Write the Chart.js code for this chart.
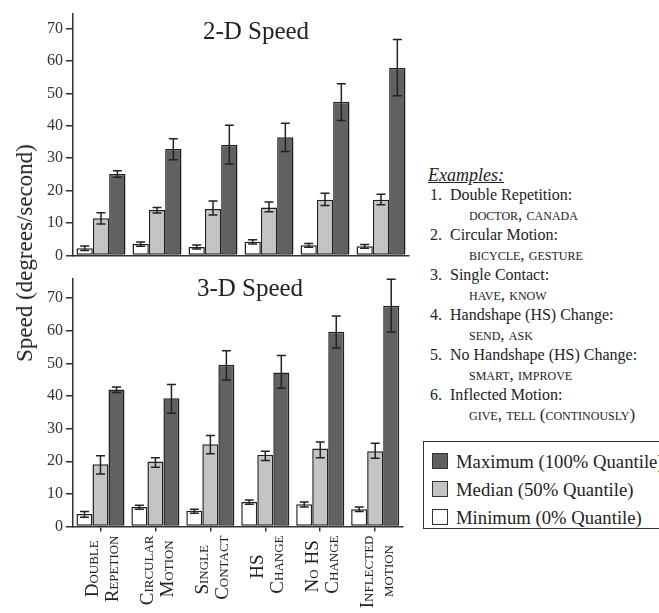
<!DOCTYPE html>
<html>
<head>
<meta charset="utf-8">
<script src="https://cdn.jsdelivr.net/npm/chart.js@4.4.0/dist/chart.umd.min.js"></script>
<style>
  html, body { margin: 0; padding: 0; background: #fff; overflow: hidden; }
  body { width: 659px; height: 613px; position: relative; font-family: 'Liberation Serif', 'Times New Roman', serif; color: #222; }
  canvas { position: absolute; left: 0; }
  #top { top: 0; }
  #bottom { top: 266px; }
  .ytitle { position: absolute; left: 25px; top: 253px; transform: translate(-50%, -50%) rotate(-90deg); font-size: 23px; white-space: nowrap; }
  #examples { position: absolute; left: 428px; top: 165px; font-size: 16px; line-height: 20px; white-space: nowrap; }
  #examples div { height: 20px; }
  #examples .head { font-style: italic; text-decoration: underline; font-size: 18px; }
  #examples .num { padding-left: 2px; }
  #examples .sub { font-variant: small-caps; font-size: 17px; padding-left: 41px; }
  #legend { position: absolute; left: 423px; top: 441px; width: 260px; height: 86px; border: 1.5px solid #333; font-size: 18.7px; }
  #legend .row { position: absolute; left: 8px; height: 28px; line-height: 28px; white-space: nowrap; }
  #legend .sw { display: inline-block; width: 14px; height: 14px; border: 1px solid #333; vertical-align: -1px; margin-right: 8px; }
</style>
</head>
<body>
<canvas id="top" width="420" height="268"></canvas>
<canvas id="bottom" width="420" height="347"></canvas>
<div class="ytitle">Speed (degrees/second)</div>

<div id="examples">
  <div class="head">Examples:</div>
  <div class="num">1.&nbsp; Double Repetition:</div>
  <div class="sub">doctor, canada</div>
  <div class="num">2.&nbsp; Circular Motion:</div>
  <div class="sub">bicycle, gesture</div>
  <div class="num">3.&nbsp; Single Contact:</div>
  <div class="sub">have, know</div>
  <div class="num">4.&nbsp; Handshape (HS) Change:</div>
  <div class="sub">send, ask</div>
  <div class="num">5.&nbsp; No Handshape (HS) Change:</div>
  <div class="sub">smart, improve</div>
  <div class="num">6.&nbsp; Inflected Motion:</div>
  <div class="sub">give, tell (continously)</div>
</div>

<div id="legend">
  <div class="row" style="top:6px"><span class="sw" style="background:#616161"></span>Maximum (100% Quantile)</div>
  <div class="row" style="top:34px"><span class="sw" style="background:#c4c4c4"></span>Median (50% Quantile)</div>
  <div class="row" style="top:62px"><span class="sw" style="background:#fff"></span>Minimum (0% Quantile)</div>
</div>

<script>
// categories (x axis), two lines each; trailing spaces keep the shorter line centred
const categories = [['Double ', 'Repetion'], ['Circular', 'Motion '], ['Single  ', 'Contact'],
                    ['HS    ', 'Change'], ['No HS ', 'Change'], ['Inflected', 'motion  ']];

// 2-D speed (degrees/second)
const min2D = [2.2, 3.5, 2.6, 4.2, 3.1, 2.8];
const min2DLow = [1.5, 2.8, 2.0, 3.5, 2.5, 2.2];
const min2DHigh = [2.9, 4.1, 3.2, 4.8, 3.7, 3.4];
const med2D = [11.5, 14.0, 14.3, 14.8, 17.2, 17.2];
const med2DLow = [9.7, 13.1, 12.5, 13.5, 15.4, 15.6];
const med2DHigh = [13.2, 14.8, 16.8, 16.5, 19.2, 18.9];
const max2D = [25.1, 32.8, 34.1, 36.5, 47.4, 57.8];
const max2DLow = [24.1, 29.5, 28.2, 32.1, 41.6, 49.3];
const max2DHigh = [26.1, 36.0, 40.2, 40.8, 53.0, 66.6];

// 3-D speed (degrees/second)
const min3D = [3.8, 6.0, 4.8, 7.5, 6.8, 5.3];
const min3DLow = [2.8, 5.3, 4.1, 6.8, 6.0, 4.6];
const min3DHigh = [4.6, 6.5, 5.3, 8.1, 7.5, 6.0];
const med3D = [19.1, 19.9, 25.2, 22.0, 23.9, 23.1];
const med3DLow = [16.1, 18.2, 22.3, 20.2, 21.1, 20.9];
const med3DHigh = [21.7, 21.1, 27.9, 23.1, 25.9, 25.5];
const max3D = [42.0, 39.3, 49.6, 47.2, 59.7, 67.7];
const max3DLow = [41.1, 34.7, 44.9, 42.4, 54.7, 59.6];
const max3DHigh = [42.8, 43.5, 53.9, 52.4, 64.5, 75.8];

const serif = "'Liberation Serif', 'Times New Roman', serif";
const ink = '#222';
const axisColor = '#333';

// draws whiskers at the low/high values of each bar
const errorBars = {
    id: 'errorBars',
    afterDatasetsDraw(chart) {
        const ctx = chart.ctx;
        const yScale = chart.scales.y;
        ctx.save();
        ctx.strokeStyle = ink;
        ctx.lineWidth = 1.5;
        chart.data.datasets.forEach((ds, i) => {
            chart.getDatasetMeta(i).data.forEach((bar, j) => {
                const x = bar.x;
                const lo = yScale.getPixelForValue(ds.errLow[j]);
                const hi = yScale.getPixelForValue(ds.errHigh[j]);
                ctx.beginPath();
                ctx.moveTo(x, lo); ctx.lineTo(x, hi);
                ctx.moveTo(x - 4.5, lo); ctx.lineTo(x + 4.5, lo);
                ctx.moveTo(x - 4.5, hi); ctx.lineTo(x + 4.5, hi);
                ctx.stroke();
            });
        });
        ctx.restore();
    }
};

// panel title placed inside the plot area
const panelTitle = {
    id: 'panelTitle',
    afterDraw(chart, args, opts) {
        const ctx = chart.ctx;
        ctx.save();
        ctx.font = opts.font;
        ctx.fillStyle = ink;
        ctx.textAlign = 'center';
        ctx.textBaseline = 'middle';
        ctx.fillText(opts.text, opts.x, opts.y);
        ctx.restore();
    }
};

function barSet(label, values, low, high, color) {
    return {
        label: label,
        data: values,
        errLow: low,
        errHigh: high,
        backgroundColor: color,
        borderColor: ink,
        borderWidth: 1.5,
        borderSkipped: false,
        categoryPercentage: 0.875,
        barPercentage: 1.0
    };
}

function makeChart(id, sets, yMax, title, showLabels, pad) {
    return new Chart(document.getElementById(id), {
        type: 'bar',
        data: { labels: categories, datasets: sets },
        plugins: [errorBars, panelTitle],
        options: {
            responsive: false,
            animation: false,
            layout: { padding: { top: pad, right: 11, left: 0, bottom: 0 } },
            scales: {
                x: {
                    grid: { offset: false, drawOnChartArea: false, drawTicks: showLabels, tickLength: 5, color: axisColor, lineWidth: 1.5 },
                    border: { color: axisColor, width: 1.5 },
                    ticks: {
                        display: showLabels,
                        color: ink,
                        autoSkip: false,
                        minRotation: 90,
                        maxRotation: 90,
                        labelOffset: -7,
                        padding: 4,
                        font: { family: serif, size: 19, weight: 'small-caps', lineHeight: 1.05 }
                    },
                    afterFit: (scale) => { scale.height = showLabels ? 86.5 : 6; }
                },
                y: {
                    min: 0,
                    max: yMax,
                    grid: { drawOnChartArea: false, tickLength: 7, color: axisColor, lineWidth: 1.5 },
                    border: { color: axisColor, width: 1.5 },
                    ticks: { stepSize: 10, includeBounds: false, color: axisColor, padding: 3, font: { family: serif, size: 16 } },
                    afterFit: (scale) => { scale.width = 73; }
                }
            },
            plugins: {
                legend: { display: false },
                tooltip: { enabled: false },
                panelTitle: title
            }
        }
    });
}

makeChart('top', [
    barSet('Minimum (0% Quantile)', min2D, min2DLow, min2DHigh, '#ffffff'),
    barSet('Median (50% Quantile)', med2D, med2DLow, med2DHigh, '#c4c4c4'),
    barSet('Maximum (100% Quantile)', max2D, max2DLow, max2DHigh, '#616161')
], 74.5, { text: '2-D Speed', x: 256, y: 32, font: '25px ' + serif }, false, 14);

makeChart('bottom', [
    barSet('Minimum (0% Quantile)', min3D, min3DLow, min3DHigh, '#ffffff'),
    barSet('Median (50% Quantile)', med3D, med3DLow, med3DHigh, '#c4c4c4'),
    barSet('Maximum (100% Quantile)', max3D, max3DLow, max3DHigh, '#616161')
], 76, { text: '3-D Speed', x: 250, y: 23, font: '25px ' + serif }, true, 7);
</script>
</body>
</html>
